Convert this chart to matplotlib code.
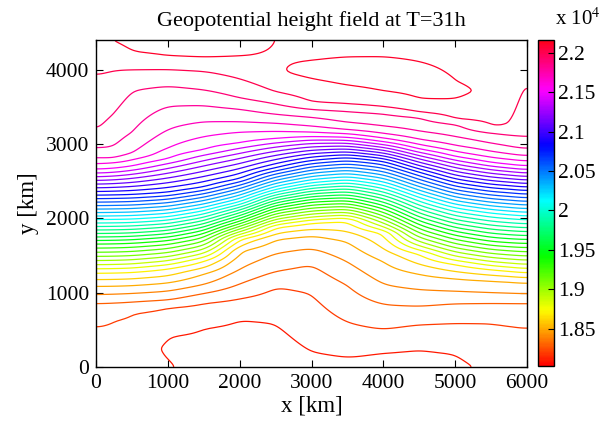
import numpy as np
import matplotlib
matplotlib.use('Agg')
import matplotlib.pyplot as plt
from matplotlib.colors import Normalize
from matplotlib.cm import ScalarMappable

plt.rcParams['font.family'] = 'Liberation Serif'
plt.rcParams['mathtext.fontset'] = 'stix'

nan = np.nan

x_cols = [0, 250, 500, 1000, 1500, 2000, 2500, 3000, 3500, 4000, 4500, 5000, 5500, 5800, 6000]

# y (km) of selected contour levels in each column
z_bottom = [18150, 18140, 18130, 18110, 18060, 18040, 18040, 18060, 18070, 18070, 18070, 18080, 18120, 18140, 18150]
y_dip = [nan, nan, nan, 250, nan, nan, nan, nan, nan, nan, nan, nan, nan, nan, nan]
z_dip = [nan, nan, nan, 18085, nan, nan, nan, nan, nan, nan, nan, nan, nan, nan, nan]
y_18100 = [nan, nan, nan, 410, 520, 640, 590, 200, 125, 190, 234, 175, nan, nan, nan]
y_18200 = [533, 630, 720, 800, 860, 920, 1080, 990, 600, 505, 570, 590, 590, 550, 525]
y_18300 = [861, 865, 875, 900, 990, 1120, 1290, 1385, 1100, 840, 817, 855, 861, 861, 861]
y_18400 = [974, 980, 990, 1020, 1110, 1330, 1530, 1600, 1415, 1110, 1041, 1020, 1000, 990, 983]
y_18500 = [1086, 1088, 1095, 1130, 1250, 1560, 1720, 1770, 1690, 1420, 1250, 1190, 1160, 1145, 1130]
y_18700 = [1265, 1268, 1275, 1320, 1420, 1720, 1880, 1940, 1970, 1800, 1520, 1380, 1310, 1285, 1265]
y_19400 = [1655, 1658, 1665, 1700, 1790, 1960, 2140, 2220, 2240, 2130, 1910, 1770, 1690, 1670, 1660]
y_20100 = [1984, 1986, 1990, 2020, 2100, 2220, 2390, 2480, 2520, 2450, 2280, 2140, 2070, 2045, 2030]
y_20800 = [2311, 2315, 2320, 2350, 2420, 2530, 2680, 2780, 2820, 2770, 2620, 2480, 2410, 2390, 2370]
y_21500 = [2657, 2670, 2700, 2800, 2920, 3010, 3070, 3100, 3090, 3030, 2930, 2830, 2750, 2720, 2700]
y_21600 = [2732, 2750, 2790, 2950, 3100, 3160, 3170, 3160, 3140, 3080, 2990, 2900, 2820, 2790, 2768]
y_21700 = [2813, 2800, 2870, 3200, 3300, 3300, 3280, 3240, 3190, 3140, 3060, 2980, 2900, 2860, 2835]
y_21800 = [2948, 2960, 3150, 3510, 3520, 3470, 3400, 3360, 3290, 3240, 3170, 3100, 3010, 2960, 2930]
y_21900 = [3080, 3400, 3720, 3780, 3730, 3620, 3540, 3465, 3440, 3410, 3360, 3270, 3150, 3110, 3070]
y_22000 = [3920, 3990, 4000, 4005, 3980, 3880, 3700, 3560, 3535, 3500, 3425, 3330, 3215, 3260, 4100]
y_22100_low = [nan, nan, 4240, 4180, 4160, 4180, nan, 3880, 3790, 3710, 3600, 3600, nan, nan, nan]
y_peak = [nan, nan, nan, nan, nan, nan, 3950, 4000, 3980, 3940, 3860, 3720, 3700, 3900, nan]
z_peak = [nan, nan, nan, nan, nan, nan, 22085, 22135, 22150, 22150, 22140, 22120, 22080, 22070, nan]
y_22100_high = [nan, nan, nan, nan, nan, nan, nan, 4120, 4170, 4175, 4110, 3850, nan, nan, nan]
z_top = [22090, 22100, 22130, 22140, 22140, 22135, 22100, 22060, 22060, 22060, 22060, 22060, 22060, 22055, 22060]

level_traces = [(18100, y_18100), (18200, y_18200), (18300, y_18300), (18400, y_18400),
                (18500, y_18500), (18700, y_18700), (19400, y_19400), (20100, y_20100),
                (20800, y_20800), (21500, y_21500), (21600, y_21600), (21700, y_21700),
                (21800, y_21800), (21900, y_21900), (22000, y_22000), (22100, y_22100_low),
                (22100, y_22100_high)]

x_max, y_max = 6000, 4400
xf = np.linspace(0, x_max, 241)
yf = np.linspace(0, y_max, 221)

# column profiles
cols = []
for i in range(len(x_cols)):
    pts = [(0, z_bottom[i]), (y_max, z_top[i])]
    for lev, ys in level_traces:
        if not np.isnan(ys[i]):
            pts.append((ys[i], lev))
    if not np.isnan(y_peak[i]):
        pts.append((y_peak[i], z_peak[i]))
    if not np.isnan(y_dip[i]):
        pts.append((y_dip[i], z_dip[i]))
    pts.sort()
    cols.append(np.interp(yf, [p[0] for p in pts], [p[1] for p in pts]))
cols = np.array(cols)

Z = np.empty((len(yf), len(xf)))
for j in range(len(yf)):
    Z[j] = np.interp(xf, x_cols, cols[:, j])


def smooth(a, sigma, axis):
    n = int(3 * sigma) + 1
    k = np.exp(-0.5 * (np.arange(-n, n + 1) / sigma) ** 2)
    k /= k.sum()
    def f(v):
        p = np.pad(v, n, mode='reflect')
        return np.convolve(p, k, mode='valid')
    return np.apply_along_axis(f, axis, a)


Z = smooth(Z, 4.0, 1)   # ~100 km in x
Z = smooth(Z, 1.2, 0)   # ~25 km in y

levels = np.arange(18100, 22101, 100)
norm = Normalize(18030, 22160)

fig = plt.figure(figsize=(6, 4.23), dpi=100)
ax = fig.add_axes([96 / 600, 56 / 423, 431 / 600, 327 / 423])
ax.contour(xf, yf, Z, levels=levels, cmap='hsv', norm=norm, linewidths=0.9)
ax.set_xlim(0, x_max)
ax.set_ylim(0, y_max)
ax.set_xticks([0, 1000, 2000, 3000, 4000, 5000, 6000])
ax.set_yticks([0, 1000, 2000, 3000, 4000])
ax.tick_params(direction='in', top=True, right=True, length=5, labelsize=15.5, pad=5)
for s in ax.spines.values():
    s.set_linewidth(1.0)
ax.set_title('Geopotential height field at T=31h', fontsize=16, pad=10)
ax.set_xlabel('x [km]', fontsize=16.5, labelpad=2)
ax.set_ylabel('y [km]', fontsize=16.5, labelpad=5)

cax = fig.add_axes([538 / 600, 57 / 423, 16 / 600, 326 / 423])
cb = fig.colorbar(ScalarMappable(norm=norm, cmap='hsv'), cax=cax)
cb.set_ticks([18500, 19000, 19500, 20000, 20500, 21000, 21500, 22000])
cb.set_ticklabels(['1.85', '1.9', '1.95', '2', '2.05', '2.1', '2.15', '2.2'])
cb.ax.tick_params(direction='in', length=4, labelsize=15.5, pad=3)
cb.outline.set_linewidth(1.0)
fig.text(555 / 600, 1 - 19 / 423, r'x 10$^{4}$', fontsize=15, va='center')

fig.savefig('out.png', dpi=100)
